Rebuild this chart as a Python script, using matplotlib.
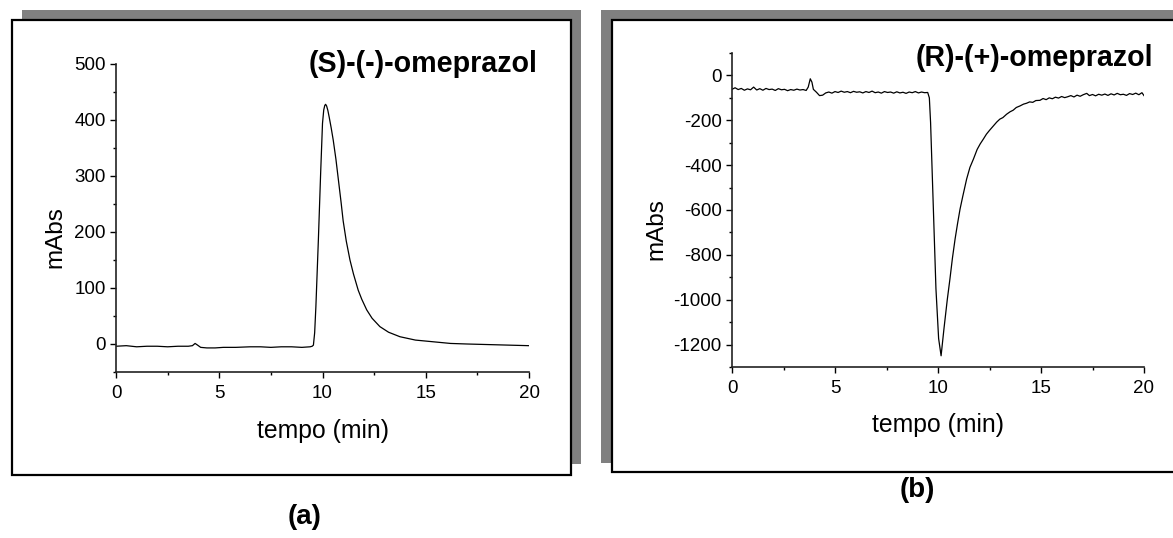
import matplotlib
matplotlib.use("Agg")
import matplotlib.pyplot as plt
from matplotlib.patches import Rectangle
from matplotlib.ticker import MultipleLocator

plt.rcParams['font.family'] = ['Liberation Sans', 'DejaVu Sans']
plt.rcParams['axes.unicode_minus'] = False

# (S)-(-)-omeprazol chromatogram
t_s = [0.0, 0.5, 1.0, 1.5, 2.0, 2.5, 3.0, 3.5, 3.7, 3.83, 3.95, 4.1, 4.4, 4.8,
       5.2, 5.8, 6.5, 7.0, 7.5, 8.0, 8.5, 9.0, 9.4, 9.5, 9.56, 9.62, 9.68, 9.8,
       9.91, 10.0, 10.06, 10.11, 10.15, 10.2, 10.26, 10.33, 10.42, 10.52,
       10.65, 10.77, 10.9, 11.0, 11.15, 11.33, 11.5, 11.73, 11.9, 12.14,
       12.4, 12.78, 13.2, 13.75, 14.5, 15.35, 16.2, 17.0, 18.0, 19.0, 20.0]
abs_s = [-4, -3, -5, -4, -4, -5, -4, -4, -3, 1, -2, -6, -7, -7,
         -6, -6, -5, -5, -6, -5, -5, -6, -5, -4, -2, 20, 67, 186,
         305, 394, 418, 426, 428, 425, 417, 404, 386, 364,
         330, 293, 253, 220, 184, 150, 125, 96, 80, 61,
         46, 31, 21, 13, 7, 4, 1, 0, -1, -2, -3]

# (R)-(+)-omeprazol chromatogram
t_r = [0.0, 0.15, 0.3, 0.45, 0.6, 0.75, 0.9, 1.05, 1.2, 1.35, 1.5, 1.65, 1.8,
       1.95, 2.1, 2.25, 2.4, 2.55, 2.7, 2.85, 3.0, 3.15, 3.3, 3.45, 3.6, 3.7,
       3.8, 3.88, 3.95, 4.1, 4.25, 4.4, 4.55, 4.7, 4.85, 5.0, 5.15, 5.3, 5.45,
       5.6, 5.75, 5.9, 6.05, 6.2, 6.35, 6.5, 6.65, 6.8, 6.95, 7.1, 7.25, 7.4,
       7.55, 7.7, 7.85, 8.0, 8.15, 8.3, 8.45, 8.6, 8.75, 8.9, 9.05, 9.2, 9.35,
       9.5, 9.58, 9.64, 9.77, 9.9, 10.03, 10.15, 10.29, 10.45, 10.58, 10.7,
       10.83, 10.95, 11.07, 11.2, 11.39, 11.55, 11.72, 11.9, 12.05, 12.2,
       12.35, 12.5, 12.69, 12.85, 13.0, 13.15, 13.33, 13.5, 13.65, 13.8,
       13.98, 14.15, 14.3, 14.45, 14.6, 14.75, 14.95, 15.1, 15.25, 15.4,
       15.55, 15.7, 15.85, 16.0, 16.15, 16.3, 16.45, 16.6, 16.75, 16.9,
       17.05, 17.22, 17.35, 17.5, 17.65, 17.8, 17.95, 18.1, 18.25, 18.4,
       18.55, 18.7, 18.85, 19.0, 19.15, 19.3, 19.45, 19.6, 19.75, 19.9, 20.0]
abs_r = [-62, -55, -63, -58, -66, -60, -64, -52, -65, -59, -66, -58, -63,
         -61, -67, -59, -64, -62, -68, -63, -66, -61, -65, -63, -67, -52,
         -15, -30, -62, -75, -90, -88, -78, -74, -79, -72, -76, -70, -75,
         -72, -77, -71, -75, -73, -78, -72, -76, -70, -77, -74, -79, -72,
         -76, -74, -79, -73, -78, -75, -80, -74, -77, -72, -78, -74, -77,
         -76, -100, -210, -581, -951, -1173, -1250, -1129, -1000, -907, -815,
         -729, -660, -596, -540, -462, -410, -373, -330, -305, -284,
         -262, -245, -225, -208, -195, -188, -173, -162, -155, -143,
         -136, -128, -124, -118, -120, -112, -111, -103, -108, -100,
         -104, -97, -101, -94, -99, -95, -90, -96, -88, -93,
         -86, -80, -90, -85, -91, -84, -88, -83, -89, -82,
         -87, -80, -86, -84, -89, -81, -85, -79, -86, -77, -90]

W, H = 1173, 538
fig = plt.figure(figsize=(W / 100, H / 100), dpi=100)


def px_rect(x0, y0, x1, y1):
    # pixel box (top-left origin) -> figure fraction
    return [x0 / W, 1 - y1 / H, (x1 - x0) / W, (y1 - y0) / H]


def frame(gray, box):
    g = px_rect(*gray)
    fig.add_artist(Rectangle((g[0], g[1]), g[2], g[3], transform=fig.transFigure,
                             facecolor='#808080', edgecolor='none', zorder=0))
    b = px_rect(*box)
    fig.add_artist(Rectangle((b[0], b[1]), b[2], b[3], transform=fig.transFigure,
                             facecolor='white', edgecolor='black', lw=1.6, zorder=1))


frame((22, 10, 581, 464), (12, 20, 571, 475))
frame((601, 10, 1180, 463), (612, 20, 1180, 472))


def setup(ax, ylim, ymaj, ymin):
    ax.set_xlim(0, 20)
    ax.set_ylim(*ylim)
    ax.patch.set_alpha(0)
    for s in ['top', 'right']:
        ax.spines[s].set_visible(False)
    for s in ['left', 'bottom']:
        ax.spines[s].set_linewidth(1.2)
        ax.spines[s].set_color('#222222')
    ax.xaxis.set_major_locator(MultipleLocator(5))
    ax.xaxis.set_minor_locator(MultipleLocator(2.5))
    ax.yaxis.set_major_locator(MultipleLocator(ymaj))
    ax.yaxis.set_minor_locator(MultipleLocator(ymin))
    ax.tick_params(which='major', direction='out', length=4.5, width=1.0,
                   labelsize=13.5, pad=3)
    ax.tick_params(axis='x', which='major', pad=5)
    ax.tick_params(which='minor', direction='out', length=2.5, width=1.0)


ax1 = fig.add_axes(px_rect(116, 64, 529, 372), zorder=2)
ax1.plot(t_s, abs_s, color='black', lw=0.9)
setup(ax1, (-50, 500), 100, 50)

ax2 = fig.add_axes(px_rect(732, 53, 1144, 367), zorder=2)
ax2.plot(t_r, abs_r, color='black', lw=0.9)
setup(ax2, (-1300, 100), 200, 100)


def ftext(x, y, s, **kw):
    fig.text(x / W, 1 - y / H, s, zorder=3, **kw)


ftext(537, 64, '(S)-(-)-omeprazol', ha='right', va='center', fontsize=20.6, fontweight='bold')
ftext(1153, 58, '(R)-(+)-omeprazol', ha='right', va='center', fontsize=20.6, fontweight='bold')
ftext(55, 237, 'mAbs', ha='center', va='center', rotation=90, fontsize=17.5)
ftext(656, 229, 'mAbs', ha='center', va='center', rotation=90, fontsize=17.5)
ftext(323, 431, 'tempo (min)', ha='center', va='center', fontsize=17.8)
ftext(938, 425, 'tempo (min)', ha='center', va='center', fontsize=17.8)
ftext(305, 517, '(a)', ha='center', va='center', fontsize=20, fontweight='bold')
ftext(917, 490, '(b)', ha='center', va='center', fontsize=20, fontweight='bold')

fig.savefig('out.png', dpi=100)
